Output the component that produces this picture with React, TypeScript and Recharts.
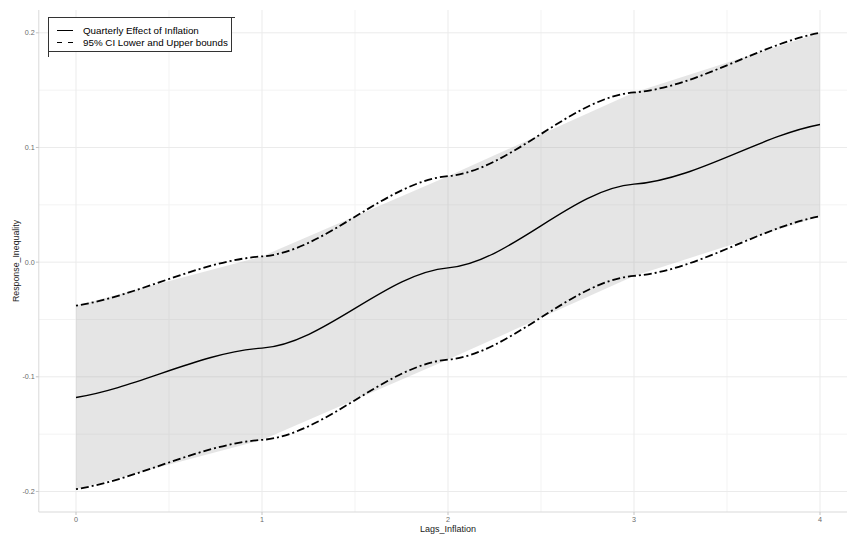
import React from 'react';
import { ComposedChart, Area, Line, XAxis, YAxis, CartesianGrid } from 'recharts';

// ---- data ----
const lags = [0, 1, 2, 3, 4];
const effect = [-0.118, -0.075, -0.005, 0.068, 0.12];
const ciLower = [-0.198, -0.155, -0.085, -0.012, 0.04];
const ciUpper = [-0.038, 0.005, 0.075, 0.148, 0.2];
const xTicks = [0, 1, 2, 3, 4];
const yTicks = [-0.2, -0.1, 0, 0.1, 0.2];
const xMinor = [0.5, 1.5, 2.5, 3.5];
const yMinor = [-0.15, -0.05, 0.05, 0.15];
const xLabel = 'Lags_Inflation';
const yLabel = 'Response_Inequality';
const legendSolid = 'Quarterly Effect of Inflation';
const legendDashed = '95% CI Lower and Upper bounds';

const data = lags.map((x, i) => ({
  x,
  effect: effect[i],
  lower: ciLower[i],
  upper: ciUpper[i],
  band: [ciLower[i], ciUpper[i]],
}));

const FONT = '"Liberation Sans", Arial, Helvetica, sans-serif';

// Hermite spline with damped tangents (flattened at the knots, like the reference)
const hermite = (kIn: number, kEnd: number) => (context: any) => {
  let pts: number[][] = [];
  return {
    areaStart() {},
    areaEnd() {},
    lineStart() {
      pts = [];
    },
    point(x: number, y: number) {
      pts.push([+x, +y]);
    },
    lineEnd() {
      const n = pts.length;
      if (!n) return;
      context.moveTo(pts[0][0], pts[0][1]);
      if (n === 1) return;
      const sec = (i: number) => (pts[i + 1][1] - pts[i][1]) / (pts[i + 1][0] - pts[i][0]);
      const m = pts.map((_, i) =>
        i === 0
          ? kEnd * sec(0)
          : i === n - 1
          ? kEnd * sec(n - 2)
          : (kIn * (pts[i + 1][1] - pts[i - 1][1])) / (pts[i + 1][0] - pts[i - 1][0])
      );
      for (let i = 0; i < n - 1; i++) {
        const dx = (pts[i + 1][0] - pts[i][0]) / 3;
        context.bezierCurveTo(
          pts[i][0] + dx,
          pts[i][1] + m[i] * dx,
          pts[i + 1][0] - dx,
          pts[i + 1][1] - m[i + 1] * dx,
          pts[i + 1][0],
          pts[i + 1][1]
        );
      }
    },
  };
};
const ggSpline: any = hermite(0.2, 0.6);

const X_DOMAIN: [number, number] = [-0.2, 4.2];
const Y_DOMAIN: [number, number] = [-0.2179, 0.2199];

const tickStyle = { fontSize: 7.2, fill: '#6a6a6a', fontFamily: FONT };

export default function App() {
  return (
    <div
      style={{
        position: 'absolute',
        left: 0,
        top: 0,
        width: 847,
        height: 535,
        overflow: 'hidden',
        background: '#ffffff',
        fontFamily: FONT,
      }}
    >
      <ComposedChart
        width={870}
        height={535}
        data={data}
        margin={{ top: 10, right: 12.8, bottom: 0, left: 0 }}
      >
        <CartesianGrid
          stroke="#f3f3f3"
          strokeWidth={1}
          horizontalValues={yMinor}
          verticalValues={xMinor}
        />
        <CartesianGrid
          stroke="#ebebeb"
          strokeWidth={1}
          horizontalValues={yTicks}
          verticalValues={xTicks}
        />
        <XAxis
          dataKey="x"
          type="number"
          domain={X_DOMAIN}
          ticks={xTicks}
          allowDataOverflow
          height={23}
          tickSize={3}
          tickMargin={2}
          tick={tickStyle}
          tickLine={{ stroke: '#c4c4c4' }}
          axisLine={{ stroke: '#d9d9d9' }}
          tickFormatter={(v: number) => String(v)}
          label={{
            value: xLabel,
            position: 'insideBottom',
            offset: 3,
            style: { fontSize: 9, fill: '#1a1a1a', fontFamily: FONT },
          }}
        />
        <XAxis
          xAxisId="top"
          orientation="top"
          type="number"
          domain={X_DOMAIN}
          allowDataOverflow
          height={0}
          tick={false}
          tickLine={false}
          axisLine={{ stroke: '#e3e3e3' }}
        />
        <YAxis
          type="number"
          domain={Y_DOMAIN}
          ticks={yTicks}
          allowDataOverflow
          width={38.8}
          tickSize={3}
          tickMargin={1}
          tick={tickStyle}
          tickLine={{ stroke: '#c4c4c4' }}
          axisLine={{ stroke: '#d9d9d9' }}
          tickFormatter={(v: number) => (Math.abs(v) < 1e-9 ? '0.0' : v.toFixed(1))}
          label={{
            value: yLabel,
            angle: -90,
            position: 'insideLeft',
            offset: 16,
            style: { fontSize: 8.8, fill: '#1a1a1a', fontFamily: FONT, textAnchor: 'middle' },
          }}
        />
        <Area
          dataKey="band"
          type="linear"
          stroke="none"
          fill="#999999"
          fillOpacity={0.25}
          isAnimationActive={false}
          activeDot={false}
        />
        <Line
          dataKey="lower"
          type={ggSpline}
          stroke="#000000"
          strokeWidth={1.8}
          strokeDasharray="2 3 8 3"
          dot={false}
          activeDot={false}
          isAnimationActive={false}
        />
        <Line
          dataKey="upper"
          type={ggSpline}
          stroke="#000000"
          strokeWidth={1.8}
          strokeDasharray="2 3 8 3"
          dot={false}
          activeDot={false}
          isAnimationActive={false}
        />
        <Line
          dataKey="effect"
          type={ggSpline}
          stroke="#000000"
          strokeWidth={1.4}
          dot={false}
          activeDot={false}
          isAnimationActive={false}
        />
      </ComposedChart>

      {/* legend */}
      <div
        style={{
          position: 'absolute',
          left: 48,
          top: 17,
          width: 182,
          height: 33,
          border: '1px solid #333333',
          background: '#ffffff',
          boxSizing: 'content-box',
        }}
      >
        <svg width={182} height={33} style={{ position: 'absolute', left: 0, top: 0 }}>
          <line x1={8} x2={24} y1={12.5} y2={12.5} stroke="#000" strokeWidth={1} />
          <line x1={8} x2={24} y1={24.5} y2={24.5} stroke="#000" strokeWidth={1} strokeDasharray="5 6" />
          <text x={34} y={12.5} dy="0.35em" fontSize={9.8} fontFamily={FONT} fill="#000">
            {legendSolid}
          </text>
          <text x={34} y={24.5} dy="0.35em" fontSize={9.8} fontFamily={FONT} fill="#000">
            {legendDashed}
          </text>
        </svg>
      </div>
      <div style={{ position: 'absolute', left: 232, top: 17, width: 3, height: 1, background: '#333' }} />
      <div style={{ position: 'absolute', left: 48, top: 52, width: 1, height: 5, background: '#333' }} />
    </div>
  );
}
